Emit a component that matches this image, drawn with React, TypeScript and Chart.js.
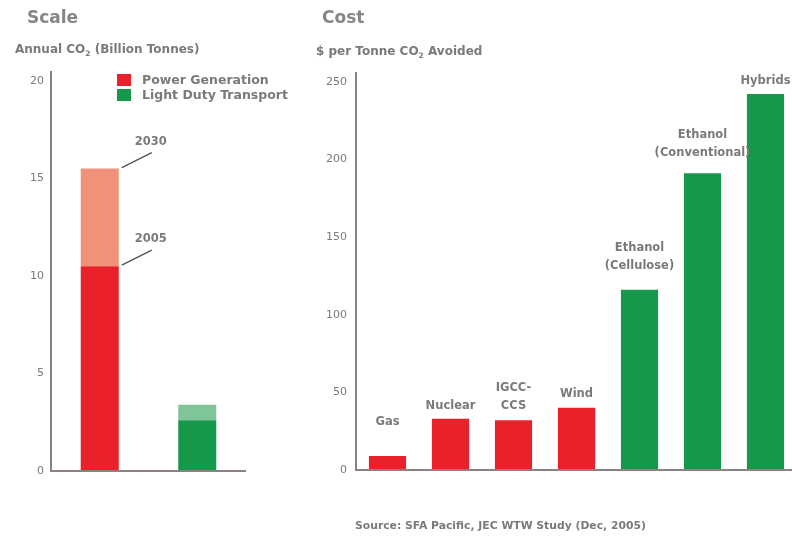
import React, { useEffect, useRef } from "react";
import { Chart, registerables } from "chart.js";

Chart.register(...registerables);

// ---- Data ----
const scaleCategories = ["Power Generation", "Light Duty Transport"];
const co2In2005 = [10.5, 2.6];
const co2In2030 = [15.5, 3.4];
const scaleTicks = [0, 5, 10, 15, 20];

const costCategories = [
  ["Gas"],
  ["Nuclear"],
  ["IGCC-", "CCS"],
  ["Wind"],
  ["Ethanol", "(Cellulose)"],
  ["Ethanol", "(Conventional)"],
  ["Hybrids"],
];
const costValues = [9, 33, 32, 40, 116, 191, 242];
const costSector = ["power", "power", "power", "power", "transport", "transport", "transport"];
const costTicks = [0, 50, 100, 150, 200, 250];

// ---- Styles ----
const RED = "#e8212b";
const SALMON = "#f0927a";
const GREEN = "#16984a";
const LIGHT_GREEN = "#7fc597";
const AXIS = "#8c8282";
const TEXT = "#7a7a7a";
const FONT = "'DejaVu Sans', Verdana, sans-serif";
const costLabelLift = [34, 13, 14, 14, 24, 20, 13];

const fixedTicks = (values: number[]) => (scale: any) => {
  scale.ticks = values.map((v) => ({ value: v }));
};

const yearNotes = {
  id: "yearNotes",
  afterDatasetsDraw(chart: any) {
    const ctx = chart.ctx;
    const m0 = chart.getDatasetMeta(0).data[0];
    const m1 = chart.getDatasetMeta(1).data[0];
    const items = [
      { el: m1, text: "2030" },
      { el: m0, text: "2005" },
    ];
    ctx.save();
    ctx.strokeStyle = "#555";
    ctx.lineWidth = 1.5;
    ctx.fillStyle = TEXT;
    ctx.font = `bold 11.5px ${FONT}`;
    ctx.textAlign = "center";
    ctx.textBaseline = "middle";
    for (const it of items) {
      const right = it.el.x + it.el.width / 2;
      const top = it.el.y;
      ctx.beginPath();
      ctx.moveTo(right + 3, top - 1);
      ctx.lineTo(right + 33, top - 16);
      ctx.stroke();
      ctx.fillText(it.text, right + 32, top - 27);
    }
    ctx.restore();
  },
};

const barLabels = {
  id: "barLabels",
  afterDatasetsDraw(chart: any) {
    const ctx = chart.ctx;
    const meta = chart.getDatasetMeta(0);
    ctx.save();
    ctx.fillStyle = TEXT;
    ctx.font = `bold 11.5px ${FONT}`;
    ctx.textAlign = "center";
    ctx.textBaseline = "middle";
    meta.data.forEach((el: any, i: number) => {
      const lines = costCategories[i];
      const lastY = el.y - costLabelLift[i];
      lines.forEach((line, j) => {
        ctx.fillText(line, el.x, lastY - (lines.length - 1 - j) * 18);
      });
    });
    ctx.restore();
  },
};

function ScaleChart() {
  const ref = useRef<HTMLCanvasElement>(null);
  useEffect(() => {
    const growth = co2In2030.map((v, i) => v - co2In2005[i]);
    const chart = new Chart(ref.current!, {
      type: "bar",
      data: {
        labels: scaleCategories,
        datasets: [
          { label: "2005", data: co2In2005, backgroundColor: [RED, GREEN] },
          { label: "2030", data: growth, backgroundColor: [SALMON, LIGHT_GREEN] },
        ],
      },
      options: {
        responsive: false,
        animation: false,
        layout: { padding: { top: 72, bottom: 65, left: 0, right: 54 } },
        plugins: { legend: { display: false }, tooltip: { enabled: false } },
        datasets: { bar: { barPercentage: 0.39, categoryPercentage: 1 } },
        scales: {
          x: { stacked: true, display: false },
          y: {
            stacked: true,
            min: 0,
            max: 20.45,
            afterBuildTicks: fixedTicks(scaleTicks),
            afterFit: (s: any) => { s.width = 51; },
            border: { display: true, color: AXIS, width: 2 },
            grid: {
              drawTicks: false,
              color: (c: any) => (c.tick && c.tick.value === 0 ? AXIS : "transparent"),
              lineWidth: 2,
            },
            ticks: { padding: 7, color: TEXT, font: { family: FONT, size: 11 } },
          },
        },
      },
      plugins: [yearNotes],
    } as any);
    return () => chart.destroy();
  }, []);
  return (
    <canvas
      ref={ref}
      width={300}
      height={536}
      style={{ position: "absolute", left: 0, top: 0 }}
    />
  );
}

function CostChart() {
  const ref = useRef<HTMLCanvasElement>(null);
  useEffect(() => {
    const chart = new Chart(ref.current!, {
      type: "bar",
      data: {
        labels: costCategories.map((l) => l.join(" ")),
        datasets: [
          {
            label: "Cost",
            data: costValues,
            backgroundColor: costSector.map((s) => (s === "power" ? RED : GREEN)),
          },
        ],
      },
      options: {
        responsive: false,
        animation: false,
        layout: { padding: { top: 73, bottom: 66, left: 0, right: 0 } },
        plugins: { legend: { display: false }, tooltip: { enabled: false } },
        datasets: { bar: { barPercentage: 0.59, categoryPercentage: 1 } },
        scales: {
          x: { display: false },
          y: {
            min: 0,
            max: 255.6,
            afterBuildTicks: fixedTicks(costTicks),
            afterFit: (s: any) => { s.width = 56; },
            border: { display: true, color: AXIS, width: 2 },
            grid: {
              drawTicks: false,
              color: (c: any) => (c.tick && c.tick.value === 0 ? AXIS : "transparent"),
              lineWidth: 2,
            },
            ticks: { padding: 9, color: TEXT, font: { family: FONT, size: 11 } },
          },
        },
      },
      plugins: [barLabels],
    } as any);
    return () => chart.destroy();
  }, []);
  return (
    <canvas
      ref={ref}
      width={497}
      height={536}
      style={{ position: "absolute", left: 300, top: 0 }}
    />
  );
}

const abs = (left: number, top: number, size: number, extra: any = {}) => ({
  position: "absolute" as const,
  left,
  top,
  fontFamily: FONT,
  fontWeight: "bold" as const,
  fontSize: size,
  color: TEXT,
  lineHeight: 1,
  whiteSpace: "nowrap" as const,
  ...extra,
});

export default function App() {
  return (
    <div
      style={{
        position: "fixed",
        left: 0,
        top: 0,
        width: 792,
        height: 536,
        overflow: "hidden",
        background: "#ffffff",
      }}
    >
      <ScaleChart />
      <CostChart />
      <div style={abs(27, 9, 17, { color: "#868686" })}>Scale</div>
      <div style={abs(322, 9, 17, { color: "#868686" })}>Cost</div>
      <div style={abs(15, 43, 12)}>
        Annual CO<sub style={{ fontSize: 7.5 }}>2</sub> (Billion Tonnes)
      </div>
      <div style={abs(316, 45, 12)}>
        $ per Tonne CO<sub style={{ fontSize: 7.5 }}>2</sub> Avoided
      </div>
      <div style={{ position: "absolute", left: 117, top: 74, width: 14, height: 12, background: RED }} />
      <div style={{ position: "absolute", left: 117, top: 89, width: 14, height: 12, background: GREEN }} />
      <div style={abs(142, 74, 12.5)}>Power Generation</div>
      <div style={abs(142, 89, 12.5)}>Light Duty Transport</div>
      <div style={abs(355, 521, 10.8)}>Source: SFA Pacific, JEC WTW Study (Dec, 2005)</div>
    </div>
  );
}
